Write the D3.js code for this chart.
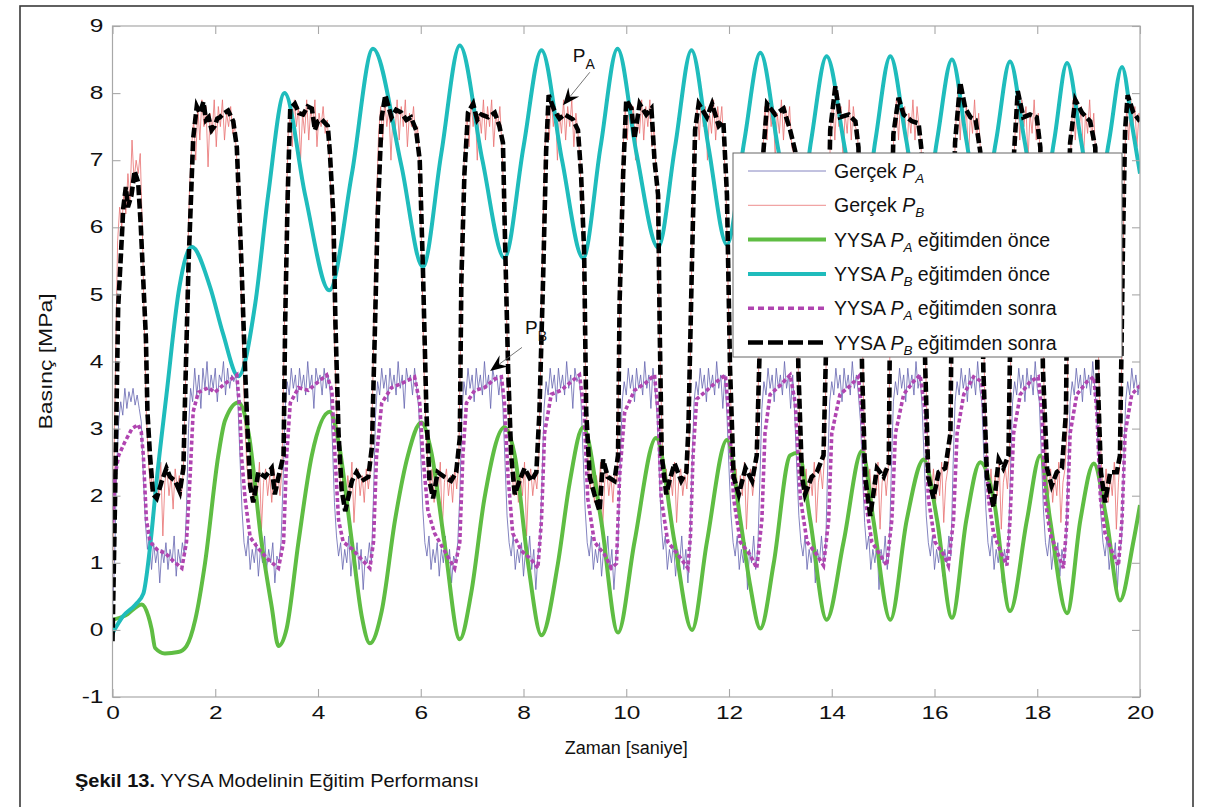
<!DOCTYPE html>
<html><head><meta charset="utf-8">
<script src="https://cdn.jsdelivr.net/npm/d3@7"></script>
<style>body{margin:0;background:#fff;} svg{display:block;font-family:"Liberation Sans",Arial,sans-serif;}</style>
</head><body><svg id="c" width="1226" height="807"></svg>
<script>
// ---------- DATA ----------
const xTicks = [0,2,4,6,8,10,12,14,16,18,20];
const yTicks = [-1,0,1,2,3,4,5,6,7,8,9];
const xTitle = "Zaman [saniye]";
const yTitle = "Basınç [MPa]";
const captionBold = "Şekil 13.";
const captionText = " YYSA Modelinin Eğitim Performansı";

// YYSA P_A eğitimden önce (green)
const paOnce = [[0,0.15],[0.24,0.21],[0.57,0.38],[0.7,0.2],[0.76,0.02],[0.83,-0.27],[1.02,-0.35],[1.28,-0.33],[1.44,-0.24],[1.61,0.15],[1.8,0.99],[2.06,2.6],[2.19,3.12],[2.45,3.39],[2.65,2.93],[2.9,1.31],[3.1,0.34],[3.23,-0.24],[3.39,0.02],[3.62,1.31],[3.88,2.6],[4.23,3.25],[4.4,2.8],[4.66,1.31],[4.85,0.21],[5.01,-0.2],[5.24,0.28],[5.5,1.64],[5.75,2.6],[6.01,3.09],[6.2,2.67],[6.46,1.31],[6.76,-0.14],[6.98,0.54],[7.24,1.96],[7.63,3.02],[7.83,2.6],[8.09,0.99],[8.35,-0.08],[8.67,0.99],[8.9,2.2],[9.16,3.02],[9.51,1.64],[9.84,-0.04],[10.16,1.31],[10.58,2.86],[10.94,1.31],[11.28,0.0],[11.57,1.31],[11.96,2.83],[12.22,1.64],[12.41,0.67],[12.61,0.02],[12.87,0.99],[13.19,2.6],[13.35,2.64],[13.58,1.64],[13.9,0.15],[14.23,1.31],[14.59,2.67],[14.81,1.64],[15.14,0.15],[15.46,1.64],[15.79,2.54],[16.05,1.64],[16.34,0.18],[16.62,1.64],[16.89,2.5],[17.15,1.96],[17.47,0.28],[17.8,1.64],[18.06,2.6],[18.25,1.64],[18.58,0.25],[18.84,1.64],[19.1,2.48],[19.35,1.64],[19.61,0.44],[19.87,1.31],[20,1.86]];

// YYSA P_B eğitimden önce (cyan)
const pbOnce = [[0,-0.05],[0.2,0.2],[0.45,0.38],[0.6,0.54],[0.73,1.23],[0.86,2.23],[1.05,3.5],[1.3,5.1],[1.54,5.71],[1.9,5.11],[2.15,4.42],[2.45,3.78],[2.78,4.87],[3.03,6.48],[3.35,8.0],[3.75,6.48],[4.22,5.06],[4.66,6.8],[5.07,8.66],[5.62,6.93],[6.04,5.41],[6.4,7.1],[6.76,8.71],[7.2,7.0],[7.63,5.54],[8.0,7.2],[8.35,8.64],[8.75,7.0],[9.16,5.54],[9.5,7.2],[9.83,8.66],[10.2,7.1],[10.62,5.7],[10.95,7.2],[11.27,8.64],[11.6,7.2],[11.96,5.74],[12.3,7.3],[12.61,8.6],[12.95,7.2],[13.3,5.8],[13.6,7.3],[13.9,8.55],[14.25,7.2],[14.57,5.9],[14.85,7.3],[15.14,8.55],[15.45,7.3],[15.77,6.0],[16.05,7.3],[16.34,8.5],[16.62,7.3],[16.9,6.1],[17.2,7.3],[17.47,8.47],[17.75,7.3],[18.05,6.1],[18.33,7.3],[18.58,8.45],[18.85,7.3],[19.12,6.2],[19.4,7.3],[19.65,8.39],[19.85,7.5],[20,6.8]];

// YYSA P_A eğitimden sonra (purple dotted)
const paSonra = [[0,1.5],[0.05,2.3],[0.12,2.6],[0.24,2.8],[0.38,3.0],[0.5,3.06],[0.56,2.95],[0.6,2.6],[0.66,1.64],[0.73,1.31],[0.89,1.18],[1.02,1.15],[1.15,1.05],[1.35,0.92],[1.44,1.31],[1.51,2.28],[1.57,3.25],[1.67,3.54],[1.87,3.61],[1.99,3.54],[2.19,3.67],[2.42,3.8],[2.48,3.25],[2.51,2.6],[2.58,1.96],[2.68,1.38],[2.84,1.21],[3.03,1.05],[3.23,0.92],[3.33,1.31],[3.39,2.6],[3.46,3.38],[3.62,3.61],[3.81,3.57],[4.01,3.7],[4.17,3.8],[4.27,3.57],[4.33,2.6],[4.4,1.64],[4.49,1.31],[4.66,1.21],[4.85,1.05],[5.01,0.92],[5.08,1.31],[5.14,2.6],[5.24,3.38],[5.43,3.61],[5.62,3.67],[5.88,3.77],[5.98,3.38],[6.04,2.6],[6.14,1.77],[6.27,1.44],[6.46,1.18],[6.66,0.92],[6.76,1.31],[6.82,2.6],[6.89,3.38],[7.05,3.57],[7.24,3.61],[7.44,3.74],[7.57,3.77],[7.63,3.38],[7.7,2.28],[7.79,1.44],[7.96,1.18],[8.15,1.05],[8.28,0.92],[8.35,1.64],[8.41,2.93],[8.54,3.51],[8.73,3.57],[8.93,3.7],[9.09,3.8],[9.18,3.25],[9.25,1.96],[9.38,1.31],[9.58,1.12],[9.71,0.92],[9.81,0.99],[9.87,2.28],[9.97,3.25],[10.16,3.57],[10.36,3.67],[10.55,3.8],[10.62,3.25],[10.68,1.96],[10.81,1.31],[11.01,1.12],[11.2,0.92],[11.25,1.4],[11.3,2.6],[11.37,3.44],[11.57,3.57],[11.76,3.7],[11.93,3.8],[11.99,3.25],[12.09,1.96],[12.22,1.31],[12.41,1.12],[12.54,0.92],[12.64,1.64],[12.7,2.93],[12.8,3.51],[12.99,3.64],[13.19,3.8],[13.29,3.38],[13.39,1.96],[13.52,1.31],[13.71,1.12],[13.84,0.96],[13.94,1.64],[14.0,2.93],[14.16,3.51],[14.36,3.64],[14.52,3.77],[14.59,3.25],[14.65,1.96],[14.78,1.31],[14.94,1.12],[15.07,0.96],[15.17,1.64],[15.24,2.93],[15.4,3.51],[15.59,3.7],[15.72,3.8],[15.82,3.25],[15.88,1.96],[16.01,1.31],[16.18,1.12],[16.27,0.96],[16.37,1.64],[16.44,2.93],[16.57,3.51],[16.76,3.77],[16.92,3.7],[16.99,2.93],[17.05,1.96],[17.15,1.44],[17.28,1.18],[17.41,0.96],[17.47,1.64],[17.54,2.93],[17.67,3.51],[17.86,3.7],[18.02,3.77],[18.09,3.25],[18.15,1.96],[18.25,1.44],[18.38,1.18],[18.51,0.92],[18.58,1.64],[18.64,2.93],[18.77,3.51],[18.97,3.7],[19.1,3.77],[19.16,3.25],[19.23,1.96],[19.32,1.44],[19.45,1.18],[19.58,0.96],[19.65,1.64],[19.71,2.93],[19.84,3.51],[20,3.64]];

// YYSA P_B eğitimden sonra (black dashed)
const pbSonra = [[0,-0.17],[0.05,1.96],[0.11,4.8],[0.18,5.83],[0.21,6.29],[0.26,6.6],[0.3,6.3],[0.37,6.48],[0.43,6.84],[0.5,6.67],[0.55,6.03],[0.6,5.19],[0.65,4.35],[0.68,3.25],[0.73,2.6],[0.79,2.02],[0.86,1.96],[0.96,2.22],[1.05,2.41],[1.12,2.28],[1.22,2.22],[1.31,2.06],[1.38,2.41],[1.41,3.38],[1.48,5.45],[1.53,6.48],[1.57,7.32],[1.64,7.8],[1.7,7.7],[1.77,7.87],[1.82,7.6],[1.87,7.64],[1.93,7.45],[1.99,7.51],[2.04,7.62],[2.09,7.64],[2.17,7.7],[2.25,7.74],[2.35,7.58],[2.42,7.19],[2.45,6.61],[2.51,5.45],[2.58,3.9],[2.63,2.93],[2.68,2.15],[2.74,1.9],[2.84,2.35],[2.97,2.28],[3.1,2.41],[3.16,2.02],[3.23,2.28],[3.33,2.6],[3.36,4.55],[3.41,6.48],[3.46,7.77],[3.55,7.84],[3.63,7.7],[3.71,7.68],[3.8,7.8],[3.88,7.77],[3.94,7.45],[4.0,7.58],[4.07,7.61],[4.19,7.51],[4.23,7.13],[4.3,6.16],[4.34,4.55],[4.4,2.93],[4.46,2.09],[4.53,1.77],[4.66,2.22],[4.75,2.35],[4.85,2.22],[4.98,2.28],[5.05,2.73],[5.11,4.55],[5.16,6.16],[5.24,7.64],[5.31,7.97],[5.43,7.64],[5.52,7.75],[5.62,7.71],[5.72,7.6],[5.81,7.64],[5.91,7.45],[5.98,7.0],[6.04,5.45],[6.11,3.25],[6.17,2.22],[6.24,1.96],[6.33,2.35],[6.46,2.28],[6.59,2.22],[6.69,2.35],[6.76,2.86],[6.79,5.19],[6.85,6.8],[6.92,7.71],[7.02,7.84],[7.1,7.6],[7.18,7.68],[7.31,7.64],[7.44,7.71],[7.53,7.51],[7.6,7.26],[7.64,5.83],[7.7,3.9],[7.76,2.6],[7.83,2.02],[7.92,2.22],[8.02,2.41],[8.15,2.22],[8.25,2.35],[8.31,3.25],[8.38,5.19],[8.44,7.13],[8.49,7.97],[8.6,7.74],[8.7,7.62],[8.8,7.68],[8.96,7.61],[9.06,7.45],[9.12,6.8],[9.18,5.64],[9.22,3.25],[9.29,2.28],[9.38,2.02],[9.48,1.77],[9.55,2.54],[9.64,2.28],[9.77,2.22],[9.84,2.6],[9.87,4.87],[9.94,6.8],[10.0,7.9],[10.1,7.77],[10.16,7.32],[10.26,7.84],[10.39,7.68],[10.49,7.77],[10.55,7.0],[10.62,6.48],[10.65,4.55],[10.69,2.6],[10.78,2.02],[10.84,2.22],[10.94,2.48],[11.07,2.22],[11.17,2.35],[11.21,3.0],[11.28,5.51],[11.34,7.45],[11.41,7.84],[11.57,7.64],[11.67,7.84],[11.8,7.51],[11.89,7.58],[11.96,6.48],[12.02,3.9],[12.09,2.28],[12.19,2.02],[12.32,2.41],[12.45,2.22],[12.54,2.6],[12.61,4.55],[12.67,7.13],[12.74,7.84],[12.9,7.68],[13.06,7.77],[13.19,7.45],[13.29,7.13],[13.35,3.9],[13.42,2.28],[13.48,2.02],[13.61,2.28],[13.71,2.35],[13.84,2.6],[13.9,4.55],[13.97,7.45],[14.07,8.1],[14.16,7.64],[14.33,7.68],[14.46,7.58],[14.52,7.19],[14.59,3.9],[14.65,2.28],[14.75,1.7],[14.88,2.41],[15.01,2.28],[15.11,2.48],[15.14,5.19],[15.2,7.39],[15.3,7.93],[15.4,7.68],[15.56,7.58],[15.69,7.55],[15.75,7.13],[15.82,3.9],[15.88,2.28],[15.98,1.96],[16.08,2.35],[16.21,2.41],[16.31,2.93],[16.34,5.19],[16.4,7.26],[16.5,8.16],[16.6,7.77],[16.7,7.64],[16.8,7.6],[16.89,7.13],[16.95,3.9],[17.02,2.28],[17.15,1.83],[17.25,2.54],[17.34,2.41],[17.44,2.6],[17.49,5.19],[17.55,7.13],[17.62,8.03],[17.73,7.64],[17.86,7.68],[17.99,7.64],[18.06,7.19],[18.11,3.9],[18.19,2.41],[18.28,2.15],[18.38,2.35],[18.48,2.41],[18.56,3.25],[18.59,5.83],[18.64,7.26],[18.74,7.9],[18.87,7.71],[19.03,7.58],[19.13,7.19],[19.17,3.9],[19.24,2.35],[19.32,1.9],[19.42,2.35],[19.55,2.35],[19.61,2.6],[19.67,5.83],[19.71,7.45],[19.76,7.97],[19.87,7.71],[20,7.58]];

// Gerçek P_A (thin blue, measured)
const gercekPA = [[0,0.3],[0.04,1.0],[0.08,2.4],[0.12,3.1],[0.16,3.4],[0.2,3.2],[0.24,3.6],[0.28,3.3],[0.32,3.55],[0.36,3.4],[0.4,3.6],[0.44,3.35],[0.48,3.5],[0.52,3.3],[0.56,3.1],[0.6,2.3],[0.64,1.6],[0.68,1.2],[0.72,1.4],[0.76,0.9],[0.8,1.3],[0.84,1.0],[0.88,1.2],[0.92,0.7],[0.96,1.2],[1.0,1.0],[1.04,1.3],[1.08,0.9],[1.12,1.2],[1.16,1.0],[1.2,1.4],[1.24,0.8],[1.28,1.2],[1.32,1.0],[1.36,1.3],[1.4,1.1],
[1.44,1.8],[1.48,3.0],[1.52,3.6],[1.56,3.4],[1.6,3.9],[1.64,3.5],[1.68,3.8],[1.72,3.3],[1.76,3.9],[1.8,3.6],[1.84,4.0],[1.88,3.5],[1.92,3.8],[1.96,3.6],[2.0,3.9],[2.04,3.4],[2.08,3.8],[2.12,3.7],[2.16,4.0],[2.2,3.5],[2.24,3.9],[2.28,3.6],[2.32,3.8],[2.36,3.7],[2.4,3.8],[2.44,3.4],[2.48,2.6],[2.52,1.8],[2.56,1.3],[2.6,1.1],[2.64,1.4],[2.68,0.9],[2.72,1.2],[2.76,1.0],[2.8,1.3],[2.84,0.8],[2.88,1.2],[2.92,1.0],[2.96,1.4],[3.0,0.9],[3.04,1.2],[3.08,1.0],[3.12,1.3],[3.16,0.7],[3.2,1.1],[3.24,1.0],[3.28,1.3],
[3.32,2.2],[3.36,3.3],[3.4,3.7],[3.44,3.5],[3.48,3.9],[3.52,3.6],[3.56,3.8],[3.6,3.4],[3.64,3.9],[3.68,3.6],[3.72,3.8],[3.76,3.5],[3.8,4.0],[3.84,3.6],[3.88,3.8],[3.92,3.3],[3.96,3.9],[4.0,3.7],[4.04,3.8],[4.08,3.5],[4.12,3.9],[4.16,3.6],[4.2,3.8],[4.24,3.5],[4.28,2.8],[4.32,1.9],[4.36,1.4],[4.4,1.1],[4.44,1.3],[4.48,0.9],[4.52,1.2],[4.56,1.0],[4.6,1.4],[4.64,0.8],[4.68,1.2],[4.72,1.0],[4.76,1.3],[4.8,0.9],[4.84,1.2],[4.88,0.6],[4.92,1.1],[4.96,1.0],[5.0,1.3],[5.04,1.0],
[5.08,2.0],[5.12,3.2],[5.16,3.7],[5.2,3.5],[5.24,3.9],[5.28,3.6],[5.32,3.8],[5.36,3.4],[5.4,3.9],[5.44,3.6],[5.48,3.8],[5.52,3.5],[5.56,4.0],[5.6,3.6],[5.64,3.8],[5.68,3.3],[5.72,3.9],[5.76,3.7],[5.8,3.8],[5.84,3.5],[5.88,3.9],[5.92,3.6],[5.96,3.3],[6.0,2.6],[6.04,1.8],[6.08,1.3],[6.12,1.1],[6.16,1.4],[6.2,0.9],[6.24,1.2],[6.28,1.0],[6.32,1.3],[6.36,0.8],[6.4,1.2],[6.44,1.0],[6.48,1.4],[6.52,0.9],[6.56,1.2],[6.6,0.7],[6.64,1.1],[6.68,1.0],[6.72,1.3],
[6.76,2.0],[6.8,3.2],[6.84,3.7],[6.88,3.5],[6.92,3.9],[6.96,3.6],[7.0,3.8],[7.04,3.4],[7.08,3.9],[7.12,3.6],[7.16,3.8],[7.2,3.5],[7.24,4.0],[7.28,3.6],[7.32,3.8],[7.36,3.3],[7.4,3.9],[7.44,3.7],[7.48,3.8],[7.52,3.5],[7.56,3.8],[7.6,3.3],[7.64,2.5],[7.68,1.7],[7.72,1.3],[7.76,1.1],[7.8,1.4],[7.84,0.9],[7.88,1.2],[7.92,1.0],[7.96,1.3],[8.0,0.8],[8.04,1.2],[8.08,1.0],[8.12,1.4],[8.16,0.9],[8.2,1.2],[8.24,0.6],[8.28,1.1],[8.32,1.3],
[8.36,2.2],[8.4,3.3],[8.44,3.7],[8.48,3.5],[8.52,3.9],[8.56,3.6],[8.6,3.8],[8.64,3.4],[8.68,3.9],[8.72,3.6],[8.76,3.8],[8.8,3.5],[8.84,4.0],[8.88,3.6],[8.92,3.8],[8.96,3.3],[9.0,3.9],[9.04,3.7],[9.08,3.8],[9.12,3.4],[9.16,2.6],[9.2,1.8],[9.24,1.3],[9.28,1.1],[9.32,1.4],[9.36,0.9],[9.4,1.2],[9.44,1.0],[9.48,1.3],[9.52,0.8],[9.56,1.2],[9.6,1.0],[9.64,1.4],[9.68,0.9],[9.72,1.2],[9.76,0.6],[9.8,1.1],[9.84,1.3],
[9.88,2.4],[9.92,3.4],[9.96,3.7],[10.0,3.5],[10.04,3.9],[10.08,3.6],[10.12,3.8],[10.16,3.4],[10.2,3.9],[10.24,3.6],[10.28,3.8],[10.32,3.5],[10.36,4.0],[10.4,3.6],[10.44,3.8],[10.48,3.3],[10.52,3.9],[10.56,3.6],[10.6,3.2],[10.64,2.4],[10.68,1.6],[10.72,1.2],[10.76,1.4],[10.8,0.9],[10.84,1.2],[10.88,1.0],[10.92,1.3],[10.96,0.8],[11.0,1.2],[11.04,1.0],[11.08,1.4],[11.12,0.9],[11.16,1.2],[11.2,0.7],[11.24,1.2],
[11.28,2.4],[11.32,3.4],[11.36,3.7],[11.4,3.5],[11.44,3.9],[11.48,3.6],[11.52,3.8],[11.56,3.4],[11.6,3.9],[11.64,3.6],[11.68,3.8],[11.72,3.5],[11.76,4.0],[11.8,3.6],[11.84,3.8],[11.88,3.3],[11.92,3.8],[11.96,3.2],[12.0,2.4],[12.04,1.7],[12.08,1.3],[12.12,1.1],[12.16,1.4],[12.2,0.9],[12.24,1.2],[12.28,1.0],[12.32,1.3],[12.36,0.6],[12.4,1.2],[12.44,1.0],[12.48,1.4],[12.52,0.9],[12.56,1.2],
[12.6,2.2],[12.64,3.3],[12.68,3.7],[12.72,3.5],[12.76,3.9],[12.8,3.6],[12.84,3.8],[12.88,3.4],[12.92,3.9],[12.96,3.6],[13.0,3.8],[13.04,3.5],[13.08,4.0],[13.12,3.6],[13.16,3.8],[13.2,3.3],[13.24,3.8],[13.28,3.2],[13.32,2.4],[13.36,1.7],[13.4,1.3],[13.44,1.1],[13.48,1.4],[13.52,0.9],[13.56,1.2],[13.6,1.0],[13.64,1.3],[13.68,0.7],[13.72,1.2],[13.76,1.0],[13.8,1.4],[13.84,1.0],[13.88,1.2],
[13.92,2.4],[13.96,3.4],[14.0,3.7],[14.04,3.5],[14.08,3.9],[14.12,3.6],[14.16,3.8],[14.2,3.4],[14.24,3.9],[14.28,3.6],[14.32,3.8],[14.36,3.5],[14.4,4.0],[14.44,3.6],[14.48,3.8],[14.52,3.5],[14.56,3.1],[14.6,2.3],[14.64,1.6],[14.68,1.2],[14.72,1.4],[14.76,0.9],[14.8,1.2],[14.84,1.0],[14.88,1.3],[14.92,0.6],[14.96,1.2],[15.0,1.0],[15.04,1.4],[15.08,0.9],[15.12,1.2],
[15.16,2.4],[15.2,3.4],[15.24,3.7],[15.28,3.5],[15.32,3.9],[15.36,3.6],[15.4,3.8],[15.44,3.4],[15.48,3.9],[15.52,3.6],[15.56,3.8],[15.6,3.5],[15.64,4.0],[15.68,3.6],[15.72,3.8],[15.76,3.3],[15.8,2.5],[15.84,1.7],[15.88,1.3],[15.92,1.1],[15.96,1.4],[16.0,0.9],[16.04,1.2],[16.08,1.0],[16.12,1.3],[16.16,0.8],[16.2,1.2],[16.24,1.0],[16.28,1.4],[16.32,1.1],
[16.36,2.4],[16.4,3.4],[16.44,3.7],[16.48,3.5],[16.52,3.9],[16.56,3.6],[16.6,3.8],[16.64,3.4],[16.68,3.9],[16.72,3.6],[16.76,3.8],[16.8,3.5],[16.84,4.0],[16.88,3.6],[16.92,3.4],[16.96,2.6],[17.0,1.8],[17.04,1.3],[17.08,1.1],[17.12,1.4],[17.16,0.9],[17.2,1.2],[17.24,1.0],[17.28,1.3],[17.32,0.7],[17.36,1.2],[17.4,1.0],[17.44,1.3],
[17.48,2.4],[17.52,3.4],[17.56,3.7],[17.6,3.5],[17.64,3.9],[17.68,3.6],[17.72,3.8],[17.76,3.4],[17.8,3.9],[17.84,3.6],[17.88,3.8],[17.92,3.5],[17.96,4.0],[18.0,3.6],[18.04,3.4],[18.08,2.6],[18.12,1.8],[18.16,1.3],[18.2,1.1],[18.24,1.4],[18.28,0.9],[18.32,1.2],[18.36,1.0],[18.4,1.3],[18.44,0.8],[18.48,1.2],[18.52,1.0],[18.56,1.3],
[18.6,2.4],[18.64,3.4],[18.68,3.7],[18.72,3.5],[18.76,3.9],[18.8,3.6],[18.84,3.8],[18.88,3.4],[18.92,3.9],[18.96,3.6],[19.0,3.8],[19.04,3.5],[19.08,4.0],[19.12,3.6],[19.16,3.2],[19.2,2.4],[19.24,1.7],[19.28,1.3],[19.32,1.1],[19.36,1.4],[19.4,0.9],[19.44,1.2],[19.48,1.0],[19.52,1.3],[19.56,0.6],[19.6,1.2],[19.64,1.3],
[19.68,2.4],[19.72,3.4],[19.76,3.7],[19.8,3.5],[19.84,3.9],[19.88,3.6],[19.92,3.8],[19.96,3.5],[20,3.7]];

// Gerçek P_B (thin red, measured)
const gercekPB = [[0,0.5],[0.03,2.5],[0.07,4.5],[0.1,5.8],[0.14,6.3],[0.18,6.0],[0.22,6.5],[0.26,6.2],[0.3,6.8],[0.34,6.4],[0.38,7.3],[0.42,6.7],[0.46,7.0],[0.5,6.8],[0.54,7.1],[0.58,6.0],[0.62,4.5],[0.66,3.2],[0.7,2.5],[0.74,2.1],[0.78,2.4],[0.82,1.9],[0.86,2.3],[0.9,2.0],[0.94,2.5],[0.98,1.4],[1.02,2.2],[1.06,2.4],[1.1,2.0],[1.14,2.3],[1.18,1.8],[1.22,2.4],[1.26,2.1],[1.3,2.3],[1.34,2.0],[1.38,2.4],
[1.42,3.6],[1.46,5.4],[1.5,6.6],[1.54,7.2],[1.58,7.6],[1.62,7.0],[1.66,7.8],[1.7,7.3],[1.74,7.9],[1.78,7.5],[1.82,7.8],[1.86,6.9],[1.9,7.7],[1.94,7.4],[1.98,7.9],[2.02,7.2],[2.06,7.8],[2.1,7.5],[2.14,7.9],[2.18,7.3],[2.22,7.7],[2.26,7.5],[2.3,7.8],[2.34,7.4],[2.38,7.5],[2.42,7.0],[2.46,6.4],[2.5,5.2],[2.54,4.0],[2.58,3.0],[2.62,2.4],[2.66,2.1],[2.7,2.4],[2.74,1.9],[2.78,2.3],[2.82,2.0],[2.86,2.5],[2.9,1.5],[2.94,2.2],[2.98,2.4],[3.02,2.0],[3.06,2.3],[3.1,1.9],[3.14,2.4],[3.18,2.1],[3.22,2.3],[3.26,2.0],[3.3,2.4],
[3.34,4.2],[3.38,6.2],[3.42,7.4],[3.46,7.7],[3.5,7.2],[3.54,7.9],[3.58,7.5],[3.62,7.8],[3.66,7.0],[3.7,7.7],[3.74,7.4],[3.78,7.9],[3.82,7.3],[3.86,7.8],[3.9,7.5],[3.94,7.9],[3.98,7.2],[4.02,7.7],[4.06,7.5],[4.1,7.8],[4.14,7.4],[4.18,7.6],[4.22,7.1],[4.26,6.3],[4.3,5.0],[4.34,3.8],[4.38,2.9],[4.42,2.3],[4.46,2.1],[4.5,2.4],[4.54,1.9],[4.58,2.3],[4.62,2.0],[4.66,2.5],[4.7,1.6],[4.74,2.2],[4.78,2.4],[4.82,2.0],[4.86,2.3],[4.9,1.9],[4.94,2.4],[4.98,2.1],[5.02,2.4],
[5.06,3.4],[5.1,5.0],[5.14,6.4],[5.18,7.4],[5.22,7.8],[5.26,7.3],[5.3,7.9],[5.34,7.5],[5.38,7.8],[5.42,7.0],[5.46,7.7],[5.5,7.4],[5.54,7.9],[5.58,7.3],[5.62,7.8],[5.66,7.5],[5.7,7.9],[5.74,7.2],[5.78,7.7],[5.82,7.5],[5.86,7.8],[5.9,7.3],[5.94,7.5],[5.98,6.8],[6.02,5.6],[6.06,4.0],[6.1,3.0],[6.14,2.4],[6.18,2.1],[6.22,2.4],[6.26,1.9],[6.3,2.3],[6.34,2.0],[6.38,2.5],[6.42,1.5],[6.46,2.2],[6.5,2.4],[6.54,2.0],[6.58,2.3],[6.62,1.9],[6.66,2.4],[6.7,2.1],[6.74,2.5],
[6.78,4.6],[6.82,6.4],[6.86,7.3],[6.9,7.7],[6.94,7.2],[6.98,7.9],[7.02,7.5],[7.06,7.8],[7.1,7.0],[7.14,7.7],[7.18,7.4],[7.22,7.9],[7.26,7.3],[7.3,7.8],[7.34,7.5],[7.38,7.9],[7.42,7.2],[7.46,7.7],[7.5,7.5],[7.54,7.8],[7.58,7.2],[7.62,6.4],[7.66,5.0],[7.7,3.8],[7.74,2.8],[7.78,2.3],[7.82,2.0],[7.86,2.4],[7.9,1.9],[7.94,2.3],[7.98,2.0],[8.02,2.5],[8.06,1.4],[8.1,2.2],[8.14,2.4],[8.18,2.0],[8.22,2.3],[8.26,2.1],[8.3,2.6],
[8.34,4.2],[8.38,6.0],[8.42,7.2],[8.46,7.8],[8.5,7.3],[8.54,7.9],[8.58,7.5],[8.62,7.8],[8.66,7.0],[8.7,7.7],[8.74,7.4],[8.78,7.9],[8.82,7.3],[8.86,7.8],[8.9,7.5],[8.94,7.9],[8.98,7.2],[9.02,7.7],[9.06,7.4],[9.1,7.0],[9.14,6.2],[9.18,4.8],[9.22,3.4],[9.26,2.5],[9.3,2.1],[9.34,2.4],[9.38,1.9],[9.42,2.3],[9.46,2.0],[9.5,2.5],[9.54,1.5],[9.58,2.2],[9.62,2.4],[9.66,2.0],[9.7,2.3],[9.74,1.9],[9.78,2.4],[9.82,2.2],
[9.86,4.2],[9.9,6.0],[9.94,7.2],[9.98,7.8],[10.02,7.3],[10.06,7.9],[10.1,7.5],[10.14,7.8],[10.18,7.0],[10.22,7.7],[10.26,7.4],[10.3,7.9],[10.34,7.3],[10.38,7.8],[10.42,7.5],[10.46,7.9],[10.5,7.2],[10.54,7.5],[10.58,6.8],[10.62,5.6],[10.66,4.0],[10.7,2.8],[10.74,2.2],[10.78,2.4],[10.82,1.9],[10.86,2.3],[10.9,2.0],[10.94,2.5],[10.98,1.6],[11.02,2.2],[11.06,2.4],[11.1,2.0],[11.14,2.3],[11.18,2.1],[11.22,2.6],
[11.26,4.8],[11.3,6.6],[11.34,7.4],[11.38,7.8],[11.42,7.3],[11.46,7.9],[11.5,7.5],[11.54,7.8],[11.58,7.0],[11.62,7.7],[11.66,7.4],[11.7,7.9],[11.74,7.3],[11.78,7.8],[11.82,7.5],[11.86,7.8],[11.9,7.2],[11.94,6.6],[11.98,5.2],[12.02,3.8],[12.06,2.7],[12.1,2.2],[12.14,2.4],[12.18,1.9],[12.22,2.3],[12.26,2.0],[12.3,2.5],[12.34,1.5],[12.38,2.2],[12.42,2.4],[12.46,2.0],[12.5,2.3],[12.54,2.5],
[12.58,4.0],[12.62,5.8],[12.66,7.1],[12.7,7.8],[12.74,7.3],[12.78,7.9],[12.82,7.5],[12.86,7.8],[12.9,7.0],[12.94,7.7],[12.98,7.4],[13.02,7.9],[13.06,7.3],[13.1,7.8],[13.14,7.5],[13.18,7.8],[13.22,7.2],[13.26,7.1],[13.3,5.8],[13.34,4.2],[13.38,2.9],[13.42,2.3],[13.46,2.0],[13.5,2.4],[13.54,1.9],[13.58,2.3],[13.62,2.0],[13.66,2.5],[13.7,1.6],[13.74,2.2],[13.78,2.4],[13.82,2.1],[13.86,2.6],
[13.9,4.4],[13.94,6.4],[13.98,7.5],[14.02,7.9],[14.06,7.3],[14.1,7.9],[14.14,7.5],[14.18,7.8],[14.22,7.0],[14.26,7.7],[14.3,7.4],[14.34,7.9],[14.38,7.3],[14.42,7.8],[14.46,7.5],[14.5,7.4],[14.54,6.8],[14.58,5.0],[14.62,3.4],[14.66,2.4],[14.7,2.0],[14.74,2.4],[14.78,1.9],[14.82,2.3],[14.86,2.0],[14.9,2.5],[14.94,1.5],[14.98,2.2],[15.02,2.4],[15.06,2.0],[15.1,2.4],
[15.14,4.6],[15.18,6.8],[15.22,7.6],[15.26,7.9],[15.3,7.3],[15.34,7.9],[15.38,7.5],[15.42,7.8],[15.46,7.0],[15.5,7.7],[15.54,7.4],[15.58,7.9],[15.62,7.3],[15.66,7.8],[15.7,7.5],[15.74,7.2],[15.78,6.0],[15.82,4.2],[15.86,2.9],[15.9,2.3],[15.94,2.0],[15.98,2.4],[16.02,1.9],[16.06,2.3],[16.1,2.0],[16.14,2.5],[16.18,1.6],[16.22,2.2],[16.26,2.4],[16.3,2.7],
[16.34,4.8],[16.38,6.8],[16.42,7.6],[16.46,8.0],[16.5,7.3],[16.54,7.9],[16.58,7.5],[16.62,7.8],[16.66,7.0],[16.7,7.7],[16.74,7.4],[16.78,7.9],[16.82,7.3],[16.86,7.7],[16.9,7.0],[16.94,5.2],[16.98,3.4],[17.02,2.4],[17.06,2.0],[17.1,2.4],[17.14,1.9],[17.18,2.3],[17.22,2.0],[17.26,2.5],[17.3,1.5],[17.34,2.2],[17.38,2.4],[17.42,2.1],[17.46,2.6],
[17.5,5.0],[17.54,6.9],[17.58,7.6],[17.62,8.0],[17.66,7.3],[17.7,7.9],[17.74,7.5],[17.78,7.8],[17.82,7.0],[17.86,7.7],[17.9,7.4],[17.94,7.9],[17.98,7.3],[18.02,7.7],[18.06,7.0],[18.1,5.0],[18.14,3.2],[18.18,2.4],[18.22,2.0],[18.26,2.4],[18.3,1.9],[18.34,2.3],[18.38,2.0],[18.42,2.5],[18.46,1.6],[18.5,2.2],[18.54,2.4],[18.58,3.0],
[18.62,6.0],[18.66,7.4],[18.7,7.9],[18.74,7.3],[18.78,7.9],[18.82,7.5],[18.86,7.8],[18.9,7.0],[18.94,7.7],[18.98,7.4],[19.02,7.9],[19.06,7.3],[19.1,7.7],[19.14,7.0],[19.18,4.6],[19.22,3.0],[19.26,2.3],[19.3,2.0],[19.34,2.4],[19.38,1.9],[19.42,2.3],[19.46,2.0],[19.5,2.5],[19.54,1.5],[19.58,2.2],[19.62,2.6],
[19.66,5.0],[19.7,7.0],[19.74,7.8],[19.78,7.3],[19.82,7.9],[19.86,7.5],[19.9,7.8],[19.94,7.2],[19.98,7.7],[20,7.6]];

const seriesNames = [
  ["Gerçek ","P","A",""],
  ["Gerçek ","P","B",""],
  ["YYSA ","P","A"," eğitimden önce"],
  ["YYSA ","P","B"," eğitimden önce"],
  ["YYSA ","P","A"," eğitimden sonra"],
  ["YYSA ","P","B"," eğitimden sonra"]
];
// annotations: [label, sub, labelT, labelV, tailT, tailV, tipT, tipV]
const annotations = [
  ["P","A", 8.96, 8.46, 9.29, 8.31, 8.77, 7.82],
  ["P","B", 8.03, 4.41, 7.97, 4.21, 7.35, 3.86]
];

// ---------- DRAW ----------
const svg = d3.select("#c");
const x = d3.scaleLinear().domain([0,20]).range([112.5,1140]);
const y = d3.scaleLinear().domain([-1,9]).range([697,26]);
const FONT = '"Liberation Sans", Arial, sans-serif';

svg.append("rect").attr("x",20).attr("y",6).attr("width",1173).attr("height",900)
  .attr("fill","none").attr("stroke","#3a3a3a").attr("stroke-width",1.6);

svg.append("defs").append("clipPath").attr("id","clip").append("rect")
  .attr("x",x(0)).attr("y",y(9)).attr("width",x(20)-x(0)).attr("height",y(-1)-y(9));

const styles = [
  {color:"#6464b0", width:0.8, dash:null, legendDash:null},
  {color:"#e87070", width:0.8, dash:null, legendDash:null},
  {color:"#5fbd43", width:4, dash:null, legendDash:null, curve:d3.curveMonotoneX},
  {color:"#1fbcbc", width:4, dash:null, legendDash:null, curve:d3.curveMonotoneX},
  {color:"#b044b0", width:3.6, dash:"4,2.6", legendDash:"6,4"},
  {color:"#000000", width:4.6, dash:"10,3.5", legendDash:"15,5"}
];
const datasets = [gercekPA, gercekPB, paOnce, pbOnce, paSonra, pbSonra];

const plot = svg.append("g").attr("clip-path","url(#clip)");
datasets.forEach((data,i)=>{
  const st = styles[i];
  const line = d3.line().x(d=>x(d[0])).y(d=>y(d[1])).curve(st.curve || d3.curveLinear);
  plot.append("path").datum(data).attr("d",line)
    .attr("fill","none").attr("stroke",st.color).attr("stroke-width",st.width)
    .attr("stroke-linejoin","miter").attr("stroke-linecap","butt")
    .attr("stroke-dasharray",st.dash);
});

// axes box
svg.append("rect").attr("x",x(0)).attr("y",y(9)).attr("width",x(20)-x(0)).attr("height",y(-1)-y(9))
  .attr("fill","none").attr("stroke","#a8a8a8").attr("stroke-width",1.2);

function styleAxis(g){
  g.select(".domain").remove();
  g.selectAll(".tick line").attr("stroke","#a8a8a8").attr("stroke-width",1.1);
  g.selectAll("text").attr("font-family",FONT).attr("font-size",17.5).attr("fill","#111");
}
const fmt = d => String(d);
const gb = svg.append("g").attr("transform",`translate(0,${y(-1)})`)
  .call(d3.axisBottom(x).tickValues(xTicks).tickSize(-8).tickPadding(9.5).tickFormat(fmt));
styleAxis(gb);
gb.selectAll("text").attr("transform","scale(1.4,1)");
const gl = svg.append("g").attr("transform",`translate(${x(0)},0)`)
  .call(d3.axisLeft(y).tickValues(yTicks).tickSize(-8).tickPadding(6.5).tickFormat(fmt));
styleAxis(gl);
gl.selectAll("text").attr("transform","scale(1.4,1)");
const gt = svg.append("g").attr("transform",`translate(0,${y(9)})`)
  .call(d3.axisTop(x).tickValues(xTicks).tickSize(-8).tickFormat(""));
styleAxis(gt);
const gr = svg.append("g").attr("transform",`translate(${x(20)},0)`)
  .call(d3.axisRight(y).tickValues(yTicks).tickSize(-8).tickFormat(""));
styleAxis(gr);

// titles
svg.append("text").attr("x",(x(0)+x(20))/2).attr("y",754).attr("text-anchor","middle")
  .attr("font-family",FONT).attr("font-size",18).attr("fill","#111").text(xTitle);
svg.append("text").attr("transform",`translate(52,${(y(9)+y(-1))/2}) rotate(-90)`).attr("text-anchor","middle")
  .attr("font-family",FONT).attr("font-size",19).attr("fill","#111")
  .attr("textLength",136).attr("lengthAdjust","spacingAndGlyphs").text(yTitle);

// caption
const cap = svg.append("text").attr("x",75).attr("y",787).attr("font-family",FONT).attr("font-size",18.5).attr("fill","#111")
  .attr("textLength",404).attr("lengthAdjust","spacingAndGlyphs");
cap.append("tspan").attr("font-weight","bold").text(captionBold);
cap.append("tspan").text(captionText);

// annotations
annotations.forEach(a=>{
  const [lab, sub, lt, lv, tt, tv, pt, pv] = a;
  const t = svg.append("text").attr("x",x(lt)).attr("y",y(lv)).attr("font-family",FONT).attr("font-size",19).attr("fill","#111");
  t.append("tspan").text(lab);
  t.append("tspan").attr("font-size",14).attr("dy",7).text(sub);
  const x1=x(tt), y1=y(tv), x2=x(pt), y2=y(pv);
  const ang = Math.atan2(y2-y1, x2-x1);
  const L=17, Wd=7, N=11;
  svg.append("line").attr("x1",x1).attr("y1",y1).attr("x2",x2-Math.cos(ang)*N).attr("y2",y2-Math.sin(ang)*N)
    .attr("stroke","#666").attr("stroke-width",0.9);
  const c=Math.cos(ang), s=Math.sin(ang);
  const p = [[x2,y2],[x2-L*c+Wd*s, y2-L*s-Wd*c],[x2-N*c, y2-N*s],[x2-L*c-Wd*s, y2-L*s+Wd*c]];
  svg.append("path").attr("d","M"+p.map(q=>q.join(",")).join("L")+"Z").attr("fill","#000");
});

// legend
const lg = svg.append("g");
lg.append("rect").attr("x",733).attr("y",153).attr("width",389).attr("height",204)
  .attr("fill","#fff").attr("stroke","#666").attr("stroke-width",1);
seriesNames.forEach((nm,i)=>{
  const st = styles[i];
  const yy = 171 + i*34.3;
  lg.append("line").attr("x1",748).attr("x2",826).attr("y1",yy).attr("y2",yy)
    .attr("stroke",st.color).attr("stroke-width",st.width).attr("stroke-dasharray",st.legendDash);
  const t = lg.append("text").attr("x",834).attr("y",yy+7).attr("font-family",FONT).attr("font-size",19.5).attr("fill","#111");
  t.append("tspan").text(nm[0]);
  t.append("tspan").attr("font-style","italic").text(nm[1]);
  t.append("tspan").attr("font-style","italic").attr("font-size",13.5).attr("dy",5).text(nm[2]);
  t.append("tspan").attr("dy",-5).text(nm[3]);
});
</script></body></html>
